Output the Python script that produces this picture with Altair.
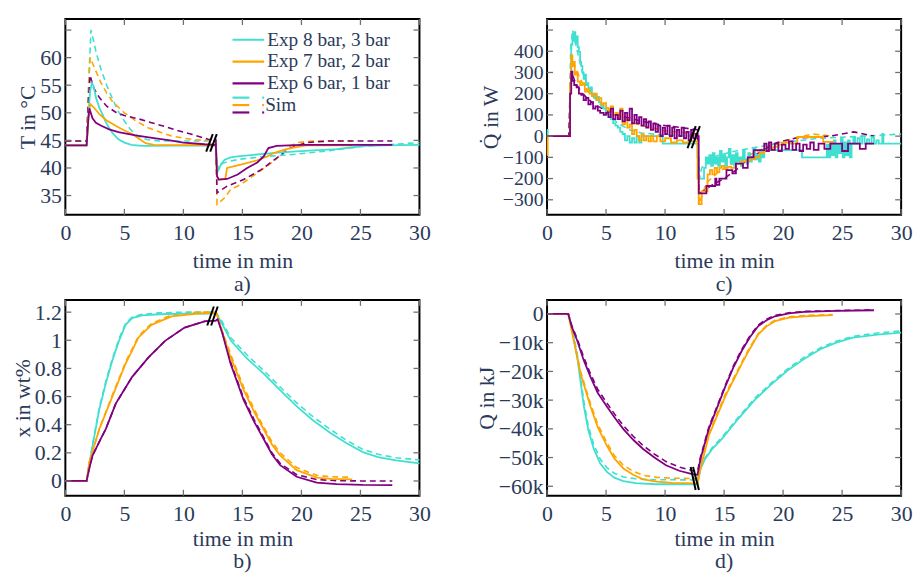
import altair as alt
import pandas as pd

FONT = "Liberation Serif, Times New Roman, DejaVu Serif, serif"
TXT = "#2b3a5a"
SERIES = ["8 bar", "7 bar", "6 bar"]
COLORS = ["#40E0D0", "#FFA500", "#800080"]
LEGEND_LABELS = ["Exp 8 bar, 3 bar", "Exp 7 bar, 2 bar", "Exp 6 bar, 1 bar"]
SIM_LABEL = "Sim"
X_TICKS = [0, 5, 10, 15, 20, 25, 30]

# ---------------- panel a) temperature ----------------
A_EXP_8 = [(0, 44.1), (1.8, 44.1), (2.0, 51.0), (2.1, 54.0), (2.25, 55.4), (2.4, 54.8), (2.6, 52.7), (2.9, 50.8),
           (3.15, 49.7), (3.4, 48.4), (3.7, 47.3), (4.0, 46.3), (4.5, 45.2), (5.0, 44.6), (5.6, 44.2), (6.5, 44.0),
           (12.75, 44.1), (12.85, 40.6), (13.0, 39.8), (13.2, 40.7), (13.5, 41.5), (14.0, 41.9), (14.6, 42.1),
           (15.5, 42.3), (16.8, 42.55), (18.0, 42.8), (19.6, 43.0), (21.0, 43.2), (23.0, 43.4), (24.5, 43.8),
           (25.2, 44.0), (27.0, 44.1), (30.0, 44.2)]
A_EXP_7 = [(0, 44.1), (1.8, 44.1), (1.95, 49.0), (2.1, 51.6), (2.4, 51.0), (2.9, 49.7), (3.5, 48.6), (4.3, 47.6),
           (5.0, 46.8), (5.7, 46.1), (6.3, 45.2), (6.8, 44.5), (7.5, 44.2), (12.75, 44.1), (12.85, 38.5), (13.0, 37.9),
           (13.55, 38.0), (13.7, 40.0), (14.86, 40.6), (16.26, 41.4), (17.0, 42.0), (17.66, 42.7), (18.5, 43.3),
           (19.33, 43.7), (20.4, 44.1), (24.3, 44.1)]
A_EXP_6 = [(0, 44.1), (1.8, 44.1), (1.95, 49.0), (2.03, 50.8), (2.3, 49.0), (2.59, 48.2), (3.0, 47.7), (3.71, 47.0),
           (4.5, 46.5), (5.94, 45.9), (7.5, 45.4), (8.73, 45.05), (10.0, 44.6), (11.8, 44.3), (12.75, 44.2),
           (12.85, 38.5), (13.0, 37.9), (13.7, 38.0), (14.6, 38.8), (15.4, 40.0), (16.26, 41.0), (16.8, 42.1),
           (17.2, 43.6), (17.9, 44.0), (20.0, 44.2), (27.7, 44.2)]
A_SIM_8 = [(0, 44.9), (1.8, 44.9), (2.0, 57.0), (2.17, 65.0), (2.4, 63.0), (2.6, 61.0), (3.0, 58.0), (3.5, 55.0),
           (4.0, 52.5), (4.5, 50.2), (5.0, 48.5), (5.5, 47.0), (6.0, 46.0), (6.5, 45.4), (7.0, 45.1), (8.0, 44.9),
           (12.75, 44.9), (12.85, 40.0), (12.95, 39.5), (13.3, 40.8), (13.8, 41.2), (14.86, 41.6), (17.0, 42.1),
           (19.05, 42.4), (21.8, 43.0), (25.2, 43.9), (28.0, 44.3), (30.0, 44.6)]
A_SIM_7 = [(0, 44.9), (1.8, 44.9), (2.0, 56.0), (2.1, 60.0), (2.5, 58.0), (3.0, 55.5), (3.5, 53.6), (4.0, 52.0),
           (5.0, 50.0), (6.0, 48.5), (7.0, 47.3), (8.0, 46.5), (9.0, 45.8), (10.0, 45.4), (11.0, 45.1), (12.75, 45.0),
           (12.85, 33.4), (13.5, 34.6), (14.0, 36.1), (14.86, 37.0), (16.26, 39.1), (16.8, 39.9), (17.66, 41.2),
           (18.77, 43.6), (19.6, 44.6), (21.0, 44.9), (24.3, 44.9)]
A_SIM_6 = [(0, 44.9), (1.8, 44.9), (1.95, 52.0), (2.09, 56.8), (2.4, 54.5), (2.87, 52.8), (3.5, 51.2), (4.27, 50.1),
           (5.0, 49.5), (6.2, 48.9), (7.3, 48.2), (8.45, 47.5), (9.5, 46.8), (10.7, 46.1), (12.1, 45.2), (12.75, 45.1),
           (12.85, 35.5), (13.7, 36.7), (15.1, 37.9), (16.6, 39.7), (17.9, 41.8), (19.05, 43.6), (20.4, 44.6),
           (22.4, 44.9), (27.7, 44.9)]
A_Y_LABELS = [35, 40, 45, 50, 55, 60]
A_Y_TICKS = [35, 40, 45, 50, 55, 60, 65]
A_BRK_T0 = [11.93, 12.27]
A_BRK_T1 = [12.49, 12.83]
A_BRK_V0 = [42.97, 42.97]
A_BRK_V1 = [46.13, 46.13]

# ---------------- panel c) heat flow ----------------
C_EXP_8 = [(0, 30), (0.05, 0), (1.85, 0), (1.95, 250), (2.05, 430), (2.15, 470), (2.25, 450), (2.3, 490), (2.4, 440),
           (2.5, 470), (2.6, 420), (2.7, 397), (2.8, 350), (2.9, 330), (3.0, 300), (3.1, 270), (3.2, 290), (3.3, 240),
           (3.4, 250), (3.5, 226), (3.6, 210), (3.7, 230), (3.8, 190), (3.9, 200), (4.0, 180), (4.1, 195), (4.2, 170),
           (4.3, 185), (4.4, 160), (4.6, 140), (4.8, 130), (5.0, 110), (5.2, 100), (5.4, 80), (5.6, 60), (5.8, 50),
           (6.0, 40), (6.2, 20), (6.4, 10), (6.6, -20), (6.8, 0), (7.0, -30), (7.2, -10), (7.4, -30), (7.6, 0),
           (7.8, -30), (8.0, 0), (9.8, -35), (12.75, -100), (12.85, -200), (13.3, -150), (13.45, -100), (13.6, -130),
           (13.75, -90), (13.9, -140), (14.05, -80), (14.2, -130), (14.35, -100), (14.5, -140), (14.65, -70),
           (14.8, -120), (14.95, -90), (15.1, -140), (15.25, -100), (15.4, -60), (15.55, -130), (15.7, -90),
           (15.85, -140), (16.0, -80), (16.15, -120), (16.3, -100), (16.45, -140), (16.6, -70), (16.75, -110),
           (16.9, -130), (17.05, -80), (17.2, -120), (17.35, -100), (17.5, -60), (17.65, -110), (17.8, -90),
           (17.95, -120), (18.1, -70), (18.25, -100), (18.4, -66), (21.6, -100), (23.7, -40), (23.85, -100),
           (24.0, -30), (24.15, -90), (24.3, -20), (24.45, -100), (24.6, -40), (24.75, -80), (24.9, -10),
           (25.05, -100), (25.2, -30), (25.35, -90), (25.5, -20), (25.65, -100), (25.8, -35), (25.95, -5),
           (26.1, -35), (26.3, -10), (26.5, -35), (26.7, 0), (26.9, -35), (27.1, -15), (27.3, -35), (27.5, -5),
           (27.7, -35), (27.9, -20), (28.1, -35), (28.4, 10), (28.5, -35), (30.0, -35)]
C_EXP_7 = [(0, -90), (0.05, 0), (1.85, 0), (1.95, 250), (2.05, 380), (2.15, 330), (2.25, 350), (2.35, 290),
           (2.5, 300), (2.6, 257), (2.8, 240), (3.0, 250), (3.2, 210), (3.4, 220), (3.6, 200), (3.8, 190), (4.0, 200),
           (4.2, 170), (4.4, 179), (4.6, 150), (4.8, 155), (5.0, 133), (5.2, 120), (5.4, 140), (5.6, 100), (5.8, 110),
           (6.0, 90), (6.2, 130), (6.4, 55), (6.6, 80), (6.8, 40), (7.0, 55), (7.2, 10), (7.4, 30), (7.6, 0),
           (7.8, -20), (8.0, 8), (8.2, -20), (8.4, 0), (8.6, -25), (8.8, 0), (9.0, -25), (9.3, 0), (9.6, -25),
           (10.0, -10), (10.5, -30), (11.0, -20), (11.5, -30), (12.0, -25), (12.75, -200), (12.85, -320),
           (13.1, -260), (13.6, -180), (13.8, -160), (14.0, -180), (14.2, -150), (14.4, -170), (14.6, -150),
           (14.8, -140), (15.0, -155), (15.3, -145), (15.6, -150), (16.0, -130), (16.4, -120), (16.8, -115),
           (17.2, -110), (17.6, -100), (18.0, -80), (18.4, -70), (18.8, -55), (19.2, -50), (19.6, -40), (20.0, -30),
           (20.5, -35), (21.2, -4), (23.4, -27), (24.3, -27)]
C_EXP_6 = [(0, 0), (1.85, 0), (1.95, 200), (2.05, 304), (2.15, 260), (2.3, 241), (2.5, 230), (2.7, 200), (2.9, 195),
           (3.1, 170), (3.3, 180), (3.5, 150), (3.7, 160), (3.9, 130), (4.1, 140), (4.3, 120), (4.5, 110), (4.8, 100),
           (5.0, 110), (5.2, 90), (5.4, 130), (5.6, 80), (5.8, 100), (6.0, 80), (6.2, 120), (6.4, 70), (6.6, 110),
           (6.8, 75), (7.0, 130), (7.2, 60), (7.4, 100), (7.6, 60), (7.8, 90), (8.0, 50), (8.2, 80), (8.4, 40),
           (8.6, 70), (8.8, 30), (9.0, 60), (9.2, 20), (9.4, 50), (9.6, 0), (9.8, 40), (10.0, 10), (10.2, 50),
           (10.4, 0), (10.6, 40), (10.8, -10), (11.0, 30), (11.2, 0), (11.4, 40), (11.6, -10), (11.8, 20),
           (12.0, -20), (12.2, 30), (12.4, -10), (12.6, 10), (12.75, 0), (12.85, -270), (13.5, -235), (14.25, -200),
           (14.35, -230), (14.6, -200), (14.9, -200), (15.2, -160), (15.7, -175), (16.0, -130), (16.6, -150),
           (17.0, -100), (17.5, -66), (18.2, -66), (18.4, -35), (18.6, -70), (18.8, -30), (19.0, -65), (19.3, -35),
           (19.6, -70), (19.9, -40), (20.2, -60), (20.5, -25), (20.8, -65), (21.1, -35), (21.4, -70), (21.7, -40),
           (22.0, -60), (22.3, -30), (22.6, -65), (23.0, -35), (23.5, -60), (24.0, -35), (24.5, -35), (25.0, -70),
           (25.5, -35), (26.0, -35), (26.5, -60), (27.0, -35), (27.7, -35)]
C_SIM_8 = [(0, 0), (1.85, 0), (2.0, 400), (2.15, 500), (2.3, 470), (2.6, 390), (3.0, 300), (3.5, 230), (4.0, 185),
           (4.5, 150), (5.0, 110), (6.0, 60), (7.0, 30), (8.0, 15), (10.0, 5), (12.75, 0), (12.9, -200), (13.1, -150),
           (13.5, -120), (14.5, -90), (16.0, -70), (18.0, -50), (20.0, -30), (23.0, -10), (27.0, 0), (30.0, 10)]
C_SIM_7 = [(0, 0), (1.85, 0), (2.0, 320), (2.1, 380), (2.4, 320), (3.0, 250), (3.5, 210), (4.0, 180), (5.0, 135),
           (6.0, 100), (7.0, 70), (8.0, 50), (10.0, 25), (12.75, 10), (12.9, -320), (13.5, -220), (14.5, -170),
           (16.0, -120), (17.5, -80), (19.0, -40), (21.0, -10), (22.5, 10), (24.3, 0)]
C_SIM_6 = [(0, 0), (1.85, 0), (2.0, 250), (2.1, 300), (2.4, 250), (3.0, 200), (4.0, 150), (5.0, 120), (6.0, 100),
           (7.0, 85), (8.0, 70), (10.0, 50), (12.75, 30), (12.9, -270), (14.0, -230), (15.0, -200), (16.0, -160),
           (17.0, -110), (18.5, -60), (19.5, -30), (21.0, -10), (24.0, 0), (26.0, 20), (27.7, 0)]
C_Y_LABELS = [-300, -200, -100, 0, 100, 200, 300, 400]
C_Y_TICKS = [-300, -200, -100, 0, 100, 200, 300, 400, 500]
C_BRK_T0 = [11.9, 12.25]
C_BRK_T1 = [12.6, 12.95]
C_BRK_V0 = [-57, -57]
C_BRK_V1 = [47, 47]

# ---------------- panel b) loading ----------------
B_EXP_8 = [(0, 0), (1.8, 0), (2.3, 0.25), (2.87, 0.507), (3.43, 0.694), (3.98, 0.856), (4.54, 0.996), (5.1, 1.11),
           (5.66, 1.158), (6.5, 1.177), (8.0, 1.185), (10.0, 1.19), (12.75, 1.19), (13.2, 1.13), (14.0, 1.0),
           (15.4, 0.87), (16.8, 0.763), (18.2, 0.645), (19.6, 0.53), (21.0, 0.43), (22.4, 0.345), (23.8, 0.27),
           (25.2, 0.205), (26.5, 0.17), (28.0, 0.147), (30.0, 0.125)]
B_EXP_7 = [(0, 0), (1.8, 0), (2.03, 0.135), (2.87, 0.368), (3.98, 0.6), (5.1, 0.833), (6.2, 1.02), (7.3, 1.11),
           (9.0, 1.17), (11.2, 1.19), (12.75, 1.195), (12.9, 1.17), (13.3, 1.05), (14.0, 0.88), (15.1, 0.647),
           (16.0, 0.49), (16.8, 0.368), (17.5, 0.26), (18.2, 0.181), (19.6, 0.077), (21.3, 0.024), (22.5, 0.015),
           (24.3, 0.012)]
B_EXP_6 = [(0, 0), (1.8, 0), (2.0, 0.08), (2.3, 0.18), (3.0, 0.3), (3.43, 0.37), (4.27, 0.55), (5.0, 0.65),
           (5.66, 0.74), (7.06, 0.88), (8.45, 0.996), (10.1, 1.09), (11.8, 1.135), (12.75, 1.14), (12.9, 1.15),
           (13.3, 1.05), (14.0, 0.833), (15.1, 0.577), (16.0, 0.42), (16.8, 0.298), (17.5, 0.19), (18.2, 0.112),
           (19.6, 0.03), (21.3, -0.011), (23.0, -0.022), (25.2, -0.028), (27.7, -0.03)]
B_SIM_8 = [(0, 0), (1.8, 0), (2.3, 0.26), (2.87, 0.52), (3.43, 0.71), (3.98, 0.87), (4.54, 1.01), (5.1, 1.12),
           (5.66, 1.165), (6.5, 1.185), (8.0, 1.195), (10.0, 1.2), (12.75, 1.2), (13.2, 1.145), (14.0, 1.02),
           (15.4, 0.895), (16.8, 0.785), (18.2, 0.668), (19.6, 0.555), (21.0, 0.455), (22.4, 0.37), (23.8, 0.29),
           (25.2, 0.225), (26.5, 0.19), (28.0, 0.165), (30.0, 0.15)]
B_SIM_7 = [(0, 0), (1.8, 0), (2.03, 0.13), (2.87, 0.37), (3.98, 0.61), (5.1, 0.845), (6.2, 1.03), (7.3, 1.12),
           (9.0, 1.18), (11.2, 1.2), (12.75, 1.2), (12.9, 1.18), (13.3, 1.065), (14.0, 0.9), (15.1, 0.67),
           (16.0, 0.51), (16.8, 0.385), (17.5, 0.28), (18.2, 0.2), (19.6, 0.095), (21.3, 0.04), (22.5, 0.03),
           (24.3, 0.027)]
B_SIM_6 = [(0, 0), (1.8, 0), (2.0, 0.08), (2.3, 0.18), (3.0, 0.3), (3.43, 0.37), (4.27, 0.55), (5.0, 0.65),
           (5.66, 0.74), (7.06, 0.88), (8.45, 0.996), (10.1, 1.09), (11.8, 1.135), (12.75, 1.14), (12.9, 1.15),
           (13.3, 1.06), (14.0, 0.845), (15.1, 0.59), (16.0, 0.435), (16.8, 0.31), (17.5, 0.2), (18.2, 0.125),
           (19.6, 0.045), (21.3, 0.01), (23.0, 0.002), (25.2, 0.0), (27.7, 0.0)]
B_Y_LABELS = [0, 0.2, 0.4, 0.6, 0.8, 1.0, 1.2]
B_BRK_T0 = [12.02, 12.35]
B_BRK_T1 = [12.58, 12.91]
B_BRK_V0 = [1.105, 1.105]
B_BRK_V1 = [1.24, 1.24]

# ---------------- panel d) heat ----------------
D_EXP_8 = [(0, 0), (1.8, 0), (2.1, -5000), (2.56, -15000), (3.12, -32200), (3.5, -40500), (3.96, -47000),
           (4.5, -52000), (5.07, -55000), (5.7, -57000), (6.47, -58200), (7.5, -58900), (9.2, -59300),
           (12.75, -59300), (13.0, -54000), (13.4, -50400), (14.0, -47000), (14.8, -43600), (16.2, -36500),
           (17.6, -29900), (19.0, -24500), (20.4, -19600), (21.8, -15600), (23.2, -12200), (24.5, -10000),
           (25.9, -8200), (28.0, -7200), (30.0, -6500)]
D_EXP_7 = [(0, 0), (1.8, 0), (2.1, -6000), (2.4, -12000), (2.84, -20700), (3.68, -32200), (4.3, -39500),
           (5.07, -45900), (5.7, -50300), (6.47, -53800), (7.3, -56000), (8.14, -57600), (9.3, -58400),
           (10.6, -58800), (12.75, -59000), (13.0, -54000), (13.7, -42400), (15.1, -28700), (16.5, -17300),
           (17.2, -12000), (17.9, -7100), (18.6, -4300), (19.3, -2500), (20.5, -1300), (21.8, -800), (24.2, -400)]
D_EXP_6 = [(0, 0), (1.8, 0), (2.1, -4500), (2.56, -9300), (3.1, -16000), (3.68, -21900), (4.3, -27500),
           (5.07, -32200), (5.8, -36500), (6.47, -40100), (7.3, -43800), (8.14, -47000), (9.1, -50000),
           (10.08, -52700), (11.2, -54600), (12.3, -55800), (12.75, -56000), (13.0, -50500), (13.7, -40100),
           (15.1, -25300), (15.8, -18500), (16.5, -12800), (17.2, -8000), (17.9, -4200), (18.6, -2200),
           (19.3, -800), (20.5, 200), (21.8, 700), (24.5, 1100), (27.7, 1300)]
D_SIM_8 = [(0, 0), (1.8, 0), (2.1, -4500), (2.56, -14000), (3.12, -30500), (3.5, -39000), (3.96, -45500),
           (4.5, -50500), (5.07, -53500), (5.7, -55500), (6.47, -56800), (7.5, -57400), (9.2, -57700),
           (12.75, -57800), (13.0, -53500), (13.4, -50000), (14.0, -46500), (14.8, -43000), (16.2, -36000),
           (17.6, -29300), (19.0, -24000), (20.4, -19000), (21.8, -15000), (23.2, -11700), (24.5, -9500),
           (25.9, -7800), (28.0, -6600), (30.0, -5900)]
D_SIM_7 = [(0, 0), (1.8, 0), (2.1, -5500), (2.4, -11500), (2.84, -20000), (3.68, -31200), (4.3, -38500),
           (5.07, -44800), (5.7, -49300), (6.47, -52700), (7.3, -54800), (8.14, -56200), (9.3, -56900),
           (10.6, -57200), (12.75, -57300), (13.0, -52500), (13.7, -41600), (15.1, -28000), (16.5, -16800),
           (17.2, -11500), (17.9, -6800), (18.6, -4000), (19.3, -2200), (20.5, -1000), (21.8, -500), (24.2, -200)]
D_SIM_6 = [(0, 0), (1.8, 0), (2.1, -4000), (2.56, -8700), (3.1, -15000), (3.68, -20800), (4.3, -26300),
           (5.07, -31000), (5.8, -35300), (6.47, -38900), (7.3, -42600), (8.14, -45800), (9.1, -48800),
           (10.08, -51400), (11.2, -53300), (12.3, -54500), (12.75, -54800), (13.0, -49800), (13.7, -39500),
           (15.1, -24800), (15.8, -18000), (16.5, -12300), (17.2, -7500), (17.9, -3800), (18.6, -1800),
           (19.3, -500), (20.5, 400), (21.8, 900), (24.5, 1200), (27.7, 1400)]
D_Y_LABELS = [-60000, -50000, -40000, -30000, -20000, -10000, 0]
D_BRK_T0 = [12.17, 12.37]
D_BRK_T1 = [12.59, 12.87]
D_BRK_V0 = [-53300, -53300]
D_BRK_V1 = [-61300, -61300]

# ---------------- layout constants ----------------
W, H = 358, 198
TICK_LEN = 6
LABEL_FS = 22


def long_df(series_lists):
    rows = []
    for s, pts in zip(SERIES, series_lists):
        rows += [{"t": t, "v": v, "s": s} for t, v in pts]
    return pd.DataFrame(rows)


def panel(exp, sim, ydom, ylabels, yticks, ytitle, brk, sub, sub_offset, xtitle_pad, yfmt=None, ylexpr=None,
          ylabel_fs=LABEL_FS, step=False, legend=False):
    xs = alt.Scale(domain=[0, 30], nice=False, zero=False)
    ys = alt.Scale(domain=ydom, nice=False, zero=False)
    xax = alt.Axis(values=X_TICKS, title="time in min", ticks=False, domain=False, grid=False,
                   labelPadding=8, titlePadding=xtitle_pad, labelOverlap=False, labelFlush=False)
    yargs = dict(values=ylabels, title=ytitle, ticks=False, domain=False, grid=False,
                 labelPadding=4, titlePadding=0, labelOverlap=False, labelFlush=False,
                 labelFontSize=ylabel_fs)
    if yfmt:
        yargs["format"] = yfmt
    if ylexpr:
        yargs["labelExpr"] = ylexpr
    yax = alt.Axis(**yargs)
    X = alt.X("t:Q", scale=xs, axis=xax)
    Y = alt.Y("v:Q", scale=ys, axis=yax)
    col = alt.Color("s:N", scale=alt.Scale(domain=SERIES, range=COLORS), legend=None)

    exp_kw = dict(strokeWidth=1.8)
    if step:
        exp_kw["interpolate"] = "step-after"
    layers = [
        alt.Chart(long_df(sim)).mark_line(strokeWidth=1.6, strokeDash=[6, 4]).encode(X, Y, col),
        alt.Chart(long_df(exp)).mark_line(**exp_kw).encode(X, Y, col),
    ]
    # inward ticks on all four sides
    xt = pd.DataFrame({"t": X_TICKS})
    yt = pd.DataFrame({"v": yticks})
    tk = dict(color="#707070", strokeWidth=1.3)
    layers += [
        alt.Chart(xt).mark_rule(**tk).encode(X, y=alt.value(H), y2=alt.value(H - TICK_LEN)),
        alt.Chart(xt).mark_rule(**tk).encode(X, y=alt.value(0), y2=alt.value(TICK_LEN)),
        alt.Chart(yt).mark_rule(**tk).encode(Y, x=alt.value(0), x2=alt.value(TICK_LEN)),
        alt.Chart(yt).mark_rule(**tk).encode(Y, x=alt.value(W - TICK_LEN), x2=alt.value(W)),
    ]
    # axis break marker
    t0, t1, v0, v1 = brk
    bdf = pd.DataFrame({"t": t0, "t2": t1, "v": v0, "v2": v1})
    layers.append(alt.Chart(bdf).mark_rule(color="black", strokeWidth=2).encode(
        X, alt.X2("t2:Q"), Y, alt.Y2("v2:Q")))

    if legend:
        one = pd.DataFrame({"k": [0]})
        lx0, lx1, tx, ly0, dy = 169, 201, 204, 21, 22
        for i, (lab, c) in enumerate(zip(LEGEND_LABELS, COLORS)):
            y = ly0 + i * dy
            layers.append(alt.Chart(one).mark_rule(color=c, strokeWidth=2.2).encode(
                x=alt.value(lx0), x2=alt.value(lx1), y=alt.value(y)))
            layers.append(alt.Chart(one).mark_text(align="left", baseline="middle", font=FONT, fontSize=19.5,
                                                   color=TXT).encode(x=alt.value(tx), y=alt.value(y),
                                                                     text=alt.value(lab)))
        ys0 = ly0 + 3 * dy
        for j, c in enumerate(COLORS):
            y = ys0 - 7.5 + j * 7.5
            layers.append(alt.Chart(one).mark_rule(color=c, strokeWidth=2.2).encode(
                x=alt.value(lx0), x2=alt.value(lx0 + 17), y=alt.value(y)))
            layers.append(alt.Chart(one).mark_rule(color=c, strokeWidth=2.2).encode(
                x=alt.value(lx1 - 2), x2=alt.value(lx1), y=alt.value(y)))
        layers.append(alt.Chart(one).mark_text(align="left", baseline="middle", font=FONT, fontSize=19.5,
                                               color=TXT).encode(x=alt.value(tx - 2), y=alt.value(ys0),
                                                                 text=alt.value(SIM_LABEL)))

    return alt.layer(*layers).properties(
        width=W, height=H,
        title=alt.TitleParams(sub, orient="bottom", anchor="middle", font=FONT, fontSize=22, color=TXT,
                              fontWeight="normal", offset=sub_offset))


pa = panel([A_EXP_8, A_EXP_7, A_EXP_6], [A_SIM_8, A_SIM_7, A_SIM_6], [31.5, 67], A_Y_LABELS, A_Y_TICKS,
           "T in °C", (A_BRK_T0, A_BRK_T1, A_BRK_V0, A_BRK_V1), "a)", 3, 7, legend=True)
pc = panel([C_EXP_8, C_EXP_7, C_EXP_6], [C_SIM_8, C_SIM_7, C_SIM_6], [-371, 552], C_Y_LABELS, C_Y_TICKS,
           "Q\u0307 in W", (C_BRK_T0, C_BRK_T1, C_BRK_V0, C_BRK_V1), "c)", 3, 7, ylabel_fs=20, step=True)
pb = panel([B_EXP_8, B_EXP_7, B_EXP_6], [B_SIM_8, B_SIM_7, B_SIM_6], [-0.105, 1.287], B_Y_LABELS, B_Y_LABELS,
           "x in wt%", (B_BRK_T0, B_BRK_T1, B_BRK_V0, B_BRK_V1), "b)", 2, 4, yfmt="~g")
pd_ = panel([D_EXP_8, D_EXP_7, D_EXP_6], [D_SIM_8, D_SIM_7, D_SIM_6], [-63300, 4900], D_Y_LABELS, D_Y_LABELS,
            "Q in kJ", (D_BRK_T0, D_BRK_T1, D_BRK_V0, D_BRK_V1), "d)", 2, 4, yfmt="~s",
            ylexpr="datum.value == 0 ? '0' : datum.label")

chart = alt.concat(pa, pc, pb, pd_, columns=2, spacing={"row": 2, "column": 43}).properties(
    padding={"left": 2, "top": 6, "right": 0, "bottom": 0}
).configure_view(stroke="black", strokeWidth=2).configure_axis(
    labelFont=FONT, labelFontSize=LABEL_FS, labelColor=TXT,
    titleFont=FONT, titleFontSize=22, titleColor=TXT, titleFontWeight="normal"
)

chart.save("out.html", embed_options={"renderer": "svg", "actions": False})
